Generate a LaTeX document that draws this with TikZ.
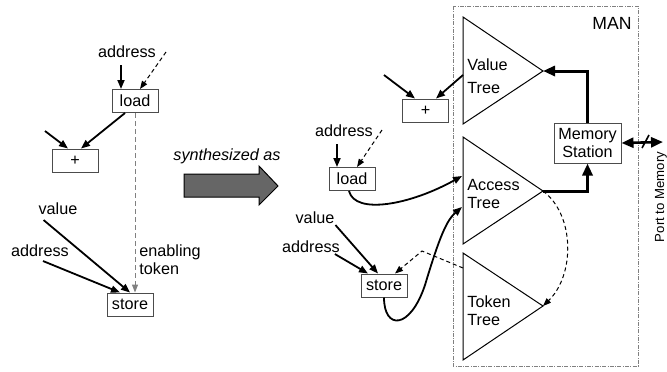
\documentclass[tikz,border=0pt]{standalone}
\usepackage{fontspec}
\setmainfont{Liberation Sans}
\usetikzlibrary{arrows.meta}

\begin{document}
\begin{tikzpicture}[x=0.5pt, y=-0.5pt,
  font=\fontsize{8.1}{9}\selectfont,
  op/.style={draw=black!70, line width=0.5pt, minimum width=23pt, minimum height=11.5pt, inner sep=0pt},
  wire/.style={-{Triangle[length=4.5pt, width=3.5pt]}, line width=0.9pt},
  ctrl/.style={-{Triangle[length=4pt, width=3pt]}, dash pattern=on 2pt off 1.5pt, line width=0.5pt},
  bus/.style={-{Triangle[length=6pt, width=5pt]}, line width=1.5pt},
  tree/.style={draw, line width=0.5pt},
  txt/.style={anchor=west, align=left, inner sep=0pt}]
  \useasboundingbox (0,0) rectangle (667,371);

  % dataflow graph before synthesis
  \node (adr1) at (127,52) {address};
  \node[op] (load1) at (135,101) {load};
  \node[op] (plus1) at (75,160.5) {+};
  \node (val1) at (58,209) {value};
  \node (adr2) at (40,251) {address};
  \node[op] (store1) at (130,304.5) {store};
  \node[txt] (tok) at (139,259.5) {enabling\\token};
  \coordinate (in1) at (166,52);
  \coordinate (in2) at (45,131);

  \draw[wire] (adr1.south -| 121,0) -- (load1.north -| 121,0);
  \draw[ctrl] (in1) -- (load1.north -| 140,0);
  \draw[wire] (load1.south -| 125,0) -- (plus1.north -| 81,0);
  \draw[wire] (in2) -- (plus1.north -| 68,0);
  \draw[ctrl, gray, dash pattern=on 2.5pt off 1.5pt] (load1.south) -- (store1.north -| load1.south);
  \draw[wire] ([xshift=6pt, yshift=1pt]val1.south west) -- (store1.north);
  \draw[wire] ([xshift=1.5pt, yshift=1.5pt]adr2.south) -- ([xshift=-5pt]store1.north);

  % big arrow
  \node[font=\fontsize{8.1}{9}\selectfont\itshape] (syn) at (227,156) {synthesized as};
  \draw[fill=black!60, line width=0.5pt] (184,174) -- (259,174) -- (259,166) -- (278,186)
    -- (259,205) -- (259,197) -- (184,197) -- cycle;

  % memory access network
  \draw[gray, line width=0.5pt, dash pattern=on 2pt off 0.7pt on 0.4pt off 0.7pt] (453,6) rectangle (638,366);
  \node[font=\fontsize{8.8}{10}\selectfont] (man) at (612,23) {MAN};

  \draw[tree] (463,17) -- (543,71) -- (463,124) -- cycle;
  \draw[tree] (463,137) -- (543,191) -- (463,244) -- cycle;
  \draw[tree] (463,253) -- (543,306) -- (463,360) -- cycle;
  \coordinate (vtip) at (543,71);
  \coordinate (atip) at (543,191);
  \coordinate (ttip) at (543,306);
  \node[txt] (vtl) at (467,76.5) {Value\\[2.5pt]Tree};
  \node[txt] (atl) at (467,194) {Access\\Tree};
  \node[txt] (ttl) at (467,311) {Token\\Tree};

  \node[op, align=center, minimum width=33.5pt, minimum height=20pt] (mem) at (587.5,143) {Memory\\Station};
  \coordinate (port) at (663,142);
  \node[rotate=90, font=\fontsize{6.6}{8}\selectfont, inner sep=0pt] (pm) at (661,197) {Port to Memory};

  \draw[bus] (atip) -| (mem.south);
  \draw[bus] (mem.north) |- (vtip);
  \draw[{Triangle[length=6pt, width=5pt]}-{Triangle[length=6pt, width=5pt]}, line width=1.3pt] (mem.east) -- (port);
  \draw[line width=0.8pt] (642,148) -- (649,135);
  \draw[ctrl] (atip) .. controls (575,215) and (575,275) .. (ttip);

  % dataflow graph after synthesis
  \node (adr3) at (344,131) {address};
  \node[op] (load2) at (352,179) {load};
  \node[op] (plus2) at (425.5,110.5) {+};
  \node (val2) at (315,218) {value};
  \node (adr4) at (311,247) {address};
  \node[op] (store2) at (384,285.5) {store};
  \coordinate (in3) at (382,130);
  \coordinate (in4) at (384,75);
  \coordinate (vin) at (463,75);
  \coordinate (ain1) at (462,176);
  \coordinate (ain2) at (462,207);
  \coordinate (tin) at (463,268);
  \coordinate (kink) at (422,251);

  \draw[wire] (adr3.south -| 337,0) -- (load2.north -| 337,0);
  \draw[ctrl] (in3) -- (load2.north -| 357,0);
  \draw[wire] (in4) -- (plus2.north -| 415,0);
  \draw[wire] (vin) -- (plus2.north -| 436,0);
  \draw[wire] (load2.south -| 349,0) .. controls (355,215) and (410,205) .. (ain1);
  \draw[wire] ([xshift=-3pt, yshift=3pt]val2.south east) -- (store2.north -| 378,0);
  \draw[wire] ([xshift=-6pt, yshift=3pt]adr4.south east) -- (store2.north -| 368,0);
  \draw[ctrl] (tin) -- (kink) -- (store2.north -| 395,0);
  \draw[wire] (store2.south) .. controls (384,330) and (410,330) .. (425,285)
    .. controls (440,235) and (447,220) .. (ain2);
\end{tikzpicture}
\end{document}
